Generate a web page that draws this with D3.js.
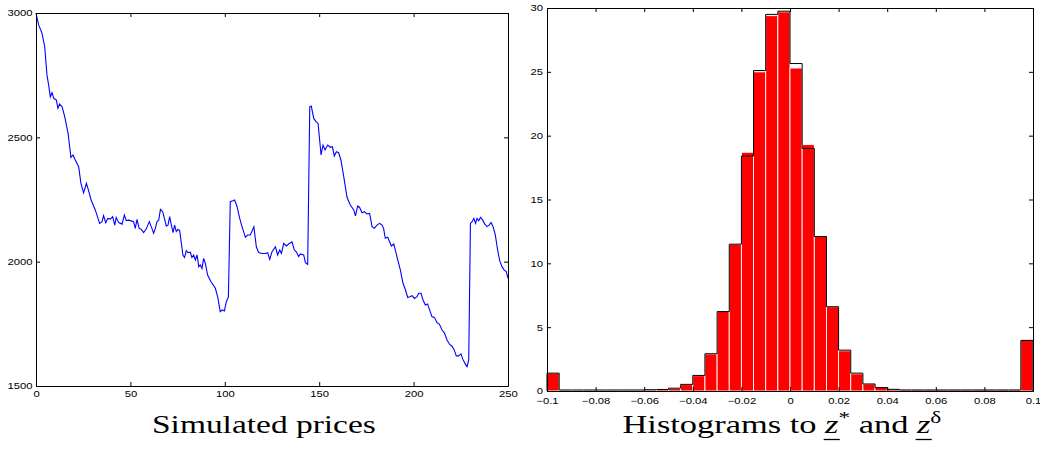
<!DOCTYPE html>
<html>
<head>
<meta charset="utf-8">
<script src="https://cdn.jsdelivr.net/npm/d3@7"></script>
<style>
  body { margin: 0; background: #fff; }
  svg { display: block; }
  .axis text { font-family: "Liberation Sans", Arial, sans-serif; font-size: 9px; fill: #000; }
  .axis line, .axis path { stroke: #000; }
  .title { font-family: "Liberation Serif", "Times New Roman", serif; font-size: 25px; fill: #000; }
</style>
</head>
<body>
<svg id="chart" width="1040" height="453"></svg>
<script>
// simulated price path
const priceDays = [
  0, 1.4, 3.2, 4.6, 5.8, 6.7, 7.6, 8.5, 9.4, 10.8, 11.6, 12.5, 13.8, 15.2, 17, 18.5, 19.6, 20.8, 22.6, 23.8,
  25.2, 26.7, 27.9, 29.1, 31.4, 33.7, 35, 35.8, 36.9, 38, 39.4, 40.6, 41.7, 42.5, 43.8, 45.6, 46.8, 47.8, 49.1, 50.8,
  51.7, 52.6, 53.5, 54.6, 55.8, 57, 58.3, 60, 61.4, 62.3, 63.2, 64.1, 65, 65.9, 67.1, 68, 69, 69.9, 70.8, 71.7,
  72.6, 73.4, 74.3, 75.2, 76.1, 77, 77.8, 78.7, 79.6, 80.5, 81.7, 82.6, 83.5, 84.4, 85.3, 86.2, 87, 87.9, 88.8, 89.7,
  90.9, 92.7, 95, 96.2, 97.6, 98.7, 99.8, 100.8, 101.9, 102.9, 104.3, 105.2, 106.5, 107.9, 109.1, 110.9, 112.1, 113.5, 115.4, 116.7,
  117.9, 119.7, 121.5, 122.7, 123.8, 125, 126.8, 128, 129.1, 130, 131.2, 132.6, 133.8, 135.6, 136.8, 137.9, 139.1, 140, 141.8, 142.7,
  143.9, 145, 145.8, 147.1, 148.3, 149.4, 151, 152, 153.1, 154.5, 155.9, 157, 158, 159.1, 160.3, 161.5, 163, 164.7, 165.3, 166.5,
  168.3, 169.2, 170.4, 171.4, 172.7, 173.9, 175.3, 176.7, 178, 179.2, 180.6, 182, 183.3, 184.1, 185, 186.3, 187.3, 188.2, 189.5, 190.3,
  191.6, 193, 194.4, 195.7, 196.9, 198, 199.2, 200.4, 201.8, 202.7, 203.9, 205, 206.2, 207.4, 208.5, 209.7, 211, 212.4, 213.6, 215.1,
  216.3, 217.7, 219.1, 220.3, 221.5, 222.6, 223.9, 225.1, 226.1, 227.4, 228.3, 229.2, 230.1, 231, 231.9, 232.8, 233.6, 234.5, 235.4, 236.6,
  237.7, 238.9, 240, 241, 242.1, 243.3, 244.5, 245.6, 246.8, 248, 249.1, 250
];
const prices = [
  3000, 2952, 2918, 2865, 2751, 2710, 2663, 2680, 2657, 2650, 2617, 2634, 2623, 2583, 2516, 2419, 2429, 2409, 2382, 2315,
  2277, 2315, 2285, 2250, 2208, 2154, 2161, 2185, 2157, 2174, 2171, 2181, 2147, 2178, 2157, 2151, 2188, 2165, 2167, 2163,
  2161, 2134, 2170, 2134, 2130, 2117, 2130, 2161, 2134, 2114, 2134, 2161, 2167, 2210, 2201, 2174, 2143, 2147, 2181, 2147,
  2117, 2147, 2121, 2130, 2125, 2074, 2027, 2017, 2044, 2036, 2038, 2017, 2027, 2007, 2027, 1980, 1987, 1973, 2013, 1993,
  1946, 1919, 1893, 1859, 1799, 1806, 1802, 1839, 1857, 2241, 2245, 2248, 2221, 2174, 2141, 2098, 2107, 2107, 2140, 2060,
  2037, 2033, 2033, 2036, 2009, 2040, 2060, 2027, 2047, 2033, 2074, 2063, 2071, 2080, 2047, 2040, 2020, 2031, 2027, 1996,
  1989, 2623, 2626, 2576, 2563, 2556, 2429, 2469, 2449, 2469, 2460, 2462, 2425, 2442, 2438, 2409, 2342, 2261, 2248, 2228,
  2208, 2184, 2224, 2218, 2197, 2201, 2192, 2194, 2141, 2134, 2147, 2154, 2147, 2134, 2094, 2098, 2080, 2063, 2071, 2047,
  2007, 1966, 1913, 1886, 1856, 1859, 1863, 1852, 1859, 1873, 1873, 1846, 1826, 1830, 1806, 1779, 1776, 1755, 1749, 1725,
  1714, 1685, 1667, 1661, 1645, 1621, 1621, 1629, 1607, 1588, 1578, 1604, 2154, 2161, 2174, 2154, 2174, 2165, 2178, 2167,
  2151, 2141, 2147, 2157, 2141, 2107, 2047, 2004, 1980, 1966, 1960, 1933
];
const priceTicksX = [0, 50, 100, 150, 200, 250];
const priceTicksY = [1500, 2000, 2500, 3000];

// histograms, 40 bins of width 0.005 between -0.1 and 0.1
const binStarts = d3.range(40).map(i => +(-0.1 + i * 0.005).toFixed(3));
const binWidth = 0.005;
const zDelta = [
  1.40, 0.08, 0.08, 0.08, 0.08, 0.08, 0.08, 0.08, 0.10, 0.12,
  0.20, 0.50, 1.20, 2.90, 6.25, 11.5, 18.7, 25.0, 29.4, 29.7,
  25.3, 19.3, 12.1, 6.6, 3.15, 1.35, 0.55, 0.32, 0.15, 0.10,
  0.10, 0.10, 0.10, 0.10, 0.10, 0.10, 0.10, 0.10, 0.10, 4.05
];
const zStar = [
  1.40, 0.08, 0.08, 0.08, 0.08, 0.08, 0.08, 0.08, 0.10, 0.12,
  0.22, 0.52, 1.22, 2.92, 6.22, 11.5, 18.4, 25.1, 29.5, 29.75,
  25.65, 19.0, 12.1, 6.6, 3.2, 1.4, 0.55, 0.26, 0.13, 0.08,
  0.08, 0.08, 0.08, 0.08, 0.08, 0.08, 0.08, 0.08, 0.08, 3.95
];
const histTicksX = [-0.1, -0.08, -0.06, -0.04, -0.02, 0, 0.02, 0.04, 0.06, 0.08, 0.1];
const histTicksY = [0, 5, 10, 15, 20, 25, 30];

const svg = d3.select('#chart');

const leftBox = { left: 36, top: 13, right: 508, bottom: 386 };
const rightBox = { left: 547, top: 8, right: 1033, bottom: 391 };

// stretch tick labels sideways like the source figure
const widen = (sel, k) => sel.selectAll('text').each(function() {
  const w = this.getComputedTextLength();
  this.setAttribute('textLength', w * k);
  this.setAttribute('lengthAdjust', 'spacingAndGlyphs');
});

const frame = (box, x, y, xTicks, yTicks, xFmt, padX, padY) => {
  const g = svg.append('g');
  g.append('g')
    .attr('class', 'axis')
    .attr('transform', `translate(0, ${box.bottom})`)
    .call(d3.axisBottom(x).tickValues(xTicks).tickFormat(xFmt).tickSizeInner(-4).tickSizeOuter(0).tickPadding(padX))
    .call(s => widen(s, 1.25));
  g.append('g')
    .attr('class', 'axis')
    .attr('transform', `translate(0, ${box.top})`)
    .call(d3.axisTop(x).tickValues(xTicks).tickFormat('').tickSizeInner(-4).tickSizeOuter(0));
  g.append('g')
    .attr('class', 'axis')
    .attr('transform', `translate(${box.left}, 0)`)
    .call(d3.axisLeft(y).tickValues(yTicks).tickFormat(d3.format('d')).tickSizeInner(-4).tickSizeOuter(0).tickPadding(padY))
    .call(s => widen(s, 1.25));
  g.append('g')
    .attr('class', 'axis')
    .attr('transform', `translate(${box.right}, 0)`)
    .call(d3.axisRight(y).tickValues(yTicks).tickFormat('').tickSizeInner(-4).tickSizeOuter(0));
};

// left: simulated prices
const x1 = d3.scaleLinear().domain([0, 250]).range([leftBox.left, leftBox.right]);
const y1 = d3.scaleLinear().domain([1500, 3000]).range([leftBox.bottom, leftBox.top]);

const priceLine = d3.line()
  .x((d, i) => x1(priceDays[i]))
  .y(d => y1(d));

svg.append('path')
  .datum(prices)
  .attr('fill', 'none')
  .attr('stroke', '#0000ff')
  .attr('stroke-width', 1.1)
  .attr('d', priceLine);

frame(leftBox, x1, y1, priceTicksX, priceTicksY, d3.format('d'), 5, 3.5);

// right: histograms
const x2 = d3.scaleLinear().domain([-0.1, 0.1]).range([rightBox.left, rightBox.right]);
const y2 = d3.scaleLinear().domain([0, 30]).range([rightBox.bottom, rightBox.top]);

svg.append('g')
  .selectAll('rect')
  .data(zDelta)
  .join('rect')
    .attr('x', (d, i) => x2(binStarts[i]))
    .attr('width', (d, i) => x2(binStarts[i] + binWidth) - x2(binStarts[i]))
    .attr('y', d => y2(d))
    .attr('height', d => y2(0) - y2(d))
    .attr('fill', '#ff0000')
    .attr('stroke', '#ffffff')
    .attr('stroke-width', 0.9);

const stairs = [{ x: -0.1, v: 0 }]
  .concat(zStar.map((v, i) => ({ x: binStarts[i], v })))
  .concat([{ x: 0.1, v: zStar[zStar.length - 1] }, { x: 0.1, v: 0 }]);

svg.append('path')
  .datum(stairs)
  .attr('fill', 'none')
  .attr('stroke', '#000')
  .attr('stroke-width', 1)
  .attr('d', d3.line().curve(d3.curveStepAfter).x(d => x2(d.x)).y(d => y2(d.v)));

const histFmt = d => d === 0 ? '0' : d3.format('~g')(d);
frame(rightBox, x2, y2, histTicksX, histTicksY, histFmt, 7, 4);

// titles, widened to the source's proportions
const title = (cx, width, build) => {
  const g = svg.append('g');
  const t = g.append('text').attr('class', 'title').attr('x', 0).attr('y', 0);
  build(t);
  const bb = t.node().getBBox();
  const k = width / bb.width;
  g.attr('transform', `translate(${cx - (bb.x + bb.width / 2) * k}, 433) scale(${k}, 1)`);
  return { g, t };
};

title(264, 224, t => t.text('Simulated prices'));

const right = title(782, 319, t => {
  t.append('tspan').text('Histograms to ');
  t.append('tspan').attr('font-style', 'italic').text('z');
  t.append('tspan').attr('dy', -10).attr('font-size', 17).text('*');
  t.append('tspan').attr('dy', 10).text(' and ');
  t.append('tspan').attr('font-style', 'italic').text('z');
  t.append('tspan').attr('dy', -10).attr('font-size', 17).text('δ');
});

// underline the two z's
const node = right.t.node();
const full = node.textContent;
[full.indexOf('z'), full.lastIndexOf('z')].forEach(i => {
  const a = node.getStartPositionOfChar(i).x;
  const b = node.getEndPositionOfChar(i).x;
  right.g.append('line')
    .attr('x1', a - 1).attr('x2', b + 1)
    .attr('y1', 6.5).attr('y2', 6.5)
    .attr('stroke', '#000')
    .attr('stroke-width', 1.3);
});
</script>
</body>
</html>
